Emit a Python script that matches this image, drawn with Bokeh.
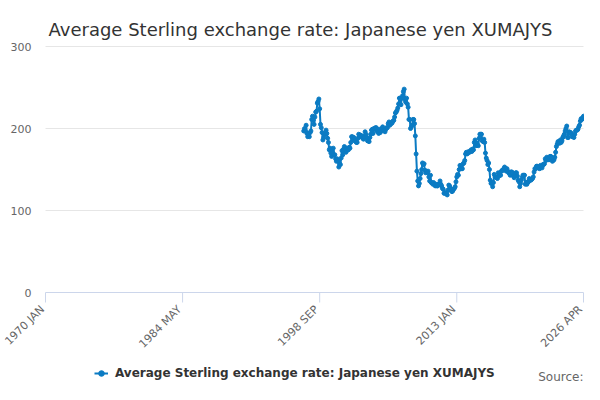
import math
from bokeh.plotting import figure
from bokeh.models import Legend, LegendItem, Label
from bokeh.embed import file_html
from bokeh.resources import INLINE
from bokeh.core.properties import value

MONTHS = ["JAN", "FEB", "MAR", "APR", "MAY", "JUN", "JUL", "AUG", "SEP", "OCT", "NOV", "DEC"]
FIRST_YEAR = 1970
LAST_YEAR, LAST_MONTH = 2026, 4
DATA_START = "1997 JAN"

y1997 = [197, 200, 197, 204, 194, 190, 193, 190, 195, 197, 211, 215]
y1998 = [210, 205, 214, 220, 221, 231, 233, 236, 224, 205, 201, 195]
y1999 = [186, 189, 194, 193, 198, 194, 188, 183, 174, 176, 170, 166]
y2000 = [172, 176, 168, 168, 163, 160, 163, 161, 153, 157, 156, 164]
y2001 = [173, 168, 175, 178, 174, 171, 176, 174, 174, 177, 176, 183]
y2002 = [190, 190, 186, 189, 185, 185, 183, 183, 188, 193, 190, 192]
y2003 = [191, 191, 188, 187, 190, 196, 193, 189, 185, 185, 184, 189]
y2004 = [193, 198, 199, 194, 200, 199, 201, 201, 197, 196, 194, 199]
y2005 = [195, 197, 200, 202, 198, 198, 196, 199, 201, 201, 206, 208]
y2006 = [204, 207, 206, 207, 209, 210, 214, 219, 220, 222, 225, 230]
y2007 = [237, 237, 229, 237, 240, 245, 248, 235, 232, 237, 230, 226]
y2008 = [211, 211, 200, 202, 204, 211, 211, 206, 191, 169, 148, 136]
y2009 = [130, 133, 139, 145, 150, 158, 156, 157, 149, 146, 148, 146]
y2010 = [148, 141, 136, 143, 134, 134, 132, 134, 132, 130, 132, 130]
y2011 = [130, 132, 132, 136, 132, 130, 127, 126, 121, 121, 122, 121]
y2012 = [119, 125, 131, 130, 127, 124, 123, 124, 126, 127, 129, 135]
y2013 = [141, 144, 143, 150, 155, 151, 151, 151, 157, 158, 161, 169]
y2014 = [171, 169, 170, 172, 171, 172, 174, 172, 175, 174, 183, 186]
y2015 = [179, 182, 180, 179, 188, 193, 193, 193, 185, 184, 187, 183]
y2016 = [170, 164, 161, 156, 158, 150, 137, 133, 134, 129, 134, 144]
y2017 = [141, 141, 140, 139, 146, 142, 145, 143, 148, 149, 149, 151]
y2018 = [153, 151, 148, 151, 148, 146, 146, 143, 147, 147, 146, 142]
y2019 = [140, 143, 146, 146, 142, 137, 135, 129, 133, 137, 140, 143]
y2020 = [143, 143, 132, 134, 132, 135, 135, 139, 137, 137, 138, 139]
y2021 = [141, 147, 151, 151, 154, 154, 152, 152, 151, 155, 153, 152]
y2022 = [156, 156, 157, 163, 161, 165, 163, 162, 162, 166, 166, 165]
y2023 = [160, 161, 162, 165, 171, 178, 181, 184, 183, 182, 186, 183]
y2024 = [185, 189, 191, 193, 197, 200, 203, 189, 189, 196, 195, 195]
y2025 = [193, 190, 192, 189, 193, 197, 198, 198, 199, 202, 204, 209]
y2026 = [212, 211, 213, 215]

TICK_LABELS = ["1970 JAN", "1984 MAY", "1998 SEP", "2013 JAN", "2026 APR"]
Y_TICKS = [0, 100, 200, 300]
SERIES_NAME = "Average Sterling exchange rate: Japanese yen XUMAJYS"
TITLE = "Average Sterling exchange rate: Japanese yen XUMAJYS"
SOURCE = "Source:"

categories = [f"{y} {m}" for y in range(FIRST_YEAR, LAST_YEAR + 1) for m in MONTHS]
categories = categories[: categories.index(f"{LAST_YEAR} {MONTHS[LAST_MONTH - 1]}") + 1]
values = (y1997 + y1998 + y1999 + y2000 + y2001 + y2002 + y2003 + y2004 + y2005 + y2006
          + y2007 + y2008 + y2009 + y2010 + y2011 + y2012 + y2013 + y2014 + y2015 + y2016
          + y2017 + y2018 + y2019 + y2020 + y2021 + y2022 + y2023 + y2024 + y2025 + y2026)
start = categories.index(DATA_START)
xs = list(range(start, start + len(values)))
n_last = len(categories) - 1

FONT = "DejaVu Sans"
BLUE = "#0b7bc3"
AXIS_COLOR = "#ccd6eb"
GRID_COLOR = "#e6e6e6"

# layout in pixels (canvas 584x384): plot area x 45..583, y 46 (top value) .. 292 (zero)
W, H = 584, 384
PX_LEFT, PX_RIGHT, PX_TOP, PX_ZERO = 45, 583, 46, 292
Y_MAX = Y_TICKS[-1]
ppx = (PX_RIGHT - PX_LEFT) / n_last
ppy = (PX_ZERO - PX_TOP) / Y_MAX
x_range = (-PX_LEFT / ppx, n_last + (W - PX_RIGHT) / ppx)
y_range = (-(H - PX_ZERO) / ppy, Y_MAX + PX_TOP / ppy)

p = figure(width=W, height=H, output_backend="svg", toolbar_location=None,
           x_range=x_range, y_range=y_range, min_border=0,
           x_axis_location=None, y_axis_location=None)
p.outline_line_color = None
p.background_fill_color = "white"
p.border_fill_color = "white"
p.xgrid.visible = False
p.ygrid.visible = False

# horizontal grid lines and value labels
grid_vals = [t for t in Y_TICKS if t != 0]
p.segment(x0=[0] * len(grid_vals), x1=[n_last] * len(grid_vals), y0=grid_vals, y1=grid_vals,
          line_color=GRID_COLOR, line_width=1)
p.text(x=[0] * len(Y_TICKS), y=Y_TICKS, text=[str(t) for t in Y_TICKS],
       text_align="right", text_baseline="middle", x_offset=-14,
       text_font=value(FONT), text_font_size="11px", text_color="#666666")

# category axis: line, ticks, rotated labels
step = categories.index(TICK_LABELS[1])
ticks = list(range(0, n_last, step)) + [n_last]
p.segment(x0=[0], x1=[n_last], y0=[0], y1=[0], line_color=AXIS_COLOR, line_width=1)
p.ray(x=ticks, y=[0] * len(ticks), length=10, length_units="screen",
      angle=-math.pi / 2, line_color=AXIS_COLOR, line_width=1)
label_pos = [categories.index(lab) for lab in TICK_LABELS]
p.text(x=label_pos, y=[0] * len(label_pos), text=TICK_LABELS, angle=math.pi / 4,
       text_align="right", text_baseline="middle", x_offset=-3, y_offset=15,
       text_font=value(FONT), text_font_size="11px", text_color="#666666")

# series
line = p.line(xs, values, line_color=BLUE, line_width=2)
pts = p.scatter(xs, values, size=4, fill_color=BLUE, line_color=BLUE)

# title
p.add_layout(Label(x=300, y=H - 29, x_units="screen", y_units="screen", text=TITLE,
                   text_font=FONT, text_font_size="18px", text_color="#333333",
                   text_align="center", text_baseline="alphabetic"))

# legend
legend = Legend(items=[LegendItem(label=SERIES_NAME, renderers=[line, pts])],
                location=(94, 3), orientation="horizontal",
                label_text_font=FONT, label_text_font_style="bold",
                label_text_font_size="12px", label_text_color="#333333",
                glyph_width=14, glyph_height=14, label_standoff=7, label_height=16,
                padding=0, margin=0, border_line_color=None, background_fill_alpha=0)
p.add_layout(legend, "center")

# source
p.add_layout(Label(x=583, y=1, x_units="screen", y_units="screen", text=SOURCE,
                   text_font=FONT, text_font_size="12px", text_color="#666666",
                   text_align="right", text_baseline="bottom"))

open("out.html", "w").write(file_html(p, INLINE))
